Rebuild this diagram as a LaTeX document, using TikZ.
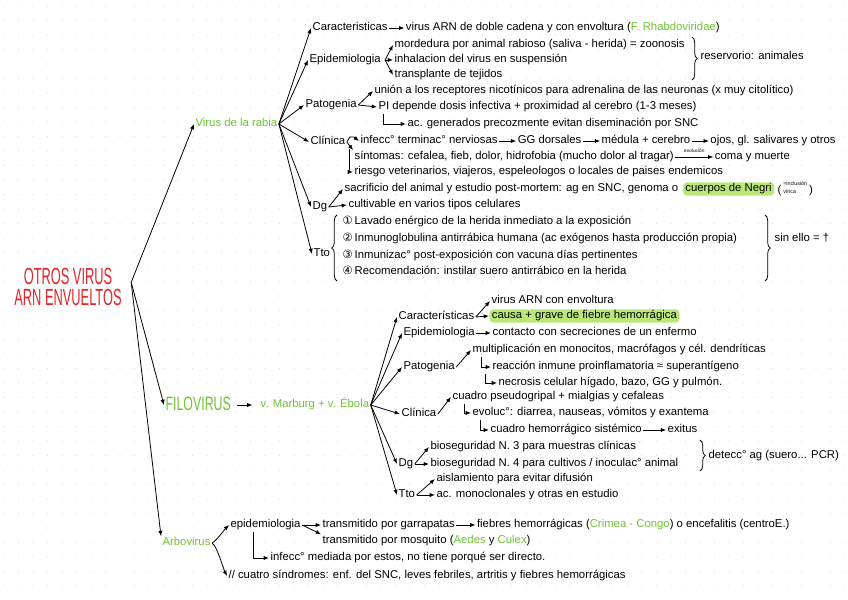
\documentclass[tikz,border=0pt]{standalone}
\usepackage{fontspec}
\setmainfont{Liberation Sans}
\newfontfamily\symf{DejaVu Sans}
\usetikzlibrary{arrows.meta,positioning,decorations.pathreplacing}
\definecolor{leaf}{RGB}{112,196,52}
\definecolor{hlgreen}{RGB}{186,232,120}
\definecolor{titlered}{RGB}{228,36,40}
\definecolor{dotgray}{RGB}{224,224,224}
\tikzset{
  item/.style={anchor=west,inner sep=1pt,text height=6pt,text depth=1.8pt,font=\fontsize{8.5}{9.5}\selectfont},
  head/.style={item,text=leaf},
  hilite/.style={item,inner xsep=2pt,fill=hlgreen,rounded corners=3pt},
  note/.style={anchor=west,inner sep=1pt,font=\fontsize{8.5}{9.5}\selectfont},
  title/.style={align=center,inner sep=1pt,text=titlered,font=\fontsize{17.5}{16}\selectfont},
  link/.style={-{Latex[length=1.4mm,width=1.1mm]},line width=0.6pt},
  curly/.style={decorate,decoration={brace,amplitude=4pt},line width=0.6pt}
}

\begin{document}
\begin{tikzpicture}[x=0.75pt,y=-0.75pt]

\useasboundingbox (0,0) rectangle (848,599);
\fill[white] (0,0) rectangle (848,599);
\foreach \i in {0,...,58}
  \foreach \j in {0,...,41}
    \fill[dotgray] (4+14.5*\i,6+14.5*\j) circle (0.6);

\node[title] (root) at (68,287) {\scalebox{0.55}[1]{OTROS VIRUS}\\\scalebox{0.55}[1]{ARN ENVUELTOS}};

\node[head] (rabia) at (194,124) {Virus de la rabia};
\node[head,font=\fontsize{14.5}{15}\selectfont,text height=10.5pt] (filo) at (164,405) {\scalebox{0.64}[1]{FILOVIRUS}};
\node[head,right=7mm of filo] (filov) {v. Marburg + v. Ébola};
\node[head] (arbo) at (161,543) {Arbovirus};

\draw[link] ([xshift=6pt,yshift=3.5pt]root.east) -- (rabia.west);
\draw[link] ([xshift=6pt,yshift=3.5pt]root.east) -- (filo.west);
\draw[link] ([xshift=6pt,yshift=3.5pt]root.east) -- (arbo.north west);
\draw[link,shorten <=3pt,shorten >=5pt] (filo) -- (filov);

% virus de la rabia
\node[item] (rcar) at (311,28) {Caracteristicas};
\node[item,right=4mm of rcar] (rcar1) {virus ARN de doble cadena y con envoltura (\textcolor{leaf}{F. Rhabdoviridae})};

\node[item] (repi) at (308,60) {Epidemiologia};
\node[item] (repi1) at (393,45) {mordedura por animal rabioso (saliva - herida) = zoonosis};
\node[item] (repi2) at (393,60) {inhalacion del virus en suspensión};
\node[item] (repi3) at (393,75) {transplante de tejidos};
\coordinate (rb1) at (692,37);
\coordinate (rb2) at (692,80);
\node[item] (rres) at (699,57) {reservorio: animales};

\node[item] (rpat) at (304,105) {Patogenia};
\node[item] (rpat1) at (373,91) {unión a los receptores nicotínicos para adrenalina de las neuronas (x muy citolítico)};
\node[item] (rpat2) at (377,107) {PI depende dosis infectiva + proximidad al cerebro (1-3 meses)};
\node[item] (rpat3) at (406,124) {ac. generados precozmente evitan diseminación por SNC};

\node[item] (rcli) at (309,142) {Clínica};
\node[item] (rcli1) at (359,141) {infecc° terminac° nerviosas};
\node[item,right=4.5mm of rcli1] (rcli2) {GG dorsales};
\node[item,right=4.5mm of rcli2] (rcli3) {médula + cerebro};
\node[item,right=4.5mm of rcli3] (rcli4) {ojos, gl. salivares y otros};
\node[item] (rcli5) at (353,157) {síntomas: cefalea, fieb, dolor, hidrofobia (mucho dolor al tragar)};
\node[item,right=10mm of rcli5] (rcli6) {coma y muerte};
\node[item] (rcli7) at (353,172) {riesgo veterinarios, viajeros, espeleologos o locales de paises endemicos};

\node[item] (rdg) at (311,207) {Dg};
\node[item] (rdg1) at (343,189) {sacrificio del animal y estudio post-mortem: ag en SNC, genoma o};
\node[hilite,right=2pt of rdg1] (negri) {cuerpos de Negri};
\node[note,right=1pt of negri] (negri2) {(\,{\fontsize{4}{4.5}\selectfont\shortstack[l]{=inclusión\\vírica}}\,)};
\node[item] (rdg2) at (347,205) {cultivable en varios tipos celulares};

\node[item] (rtto) at (312,254) {Tto};
\coordinate (rt1) at (337,281);
\coordinate (rt2) at (337,215);
\node[item] (rtto1) at (341,222) {{\symf ①}\,Lavado enérgico de la herida inmediato a la exposición};
\node[item] (rtto2) at (341,239) {{\symf ②}\,Inmunoglobulina antirrábica humana (ac exógenos hasta producción propia)};
\node[item] (rtto3) at (341,256) {{\symf ③}\,Inmunizac° post-exposición con vacuna días pertinentes};
\node[item] (rtto4) at (341,272) {{\symf ④}\,Recomendación: instilar suero antirrábico en la herida};
\coordinate (rt3) at (765,215);
\coordinate (rt4) at (765,281);
\node[item] (rsin) at (773,239) {sin ello = †};

\foreach \n in {rcar,repi,rpat,rcli,rdg,rtto}
  \draw[link] (rabia.east) -- (\n.west);
\draw[link] (rcar) -- (rcar1);
\foreach \n in {repi1,repi2,repi3}
  \draw[link] ([xshift=2pt]repi.east) -- (\n.west);
\draw[curly] (rb1) -- (rb2);
\draw[link] (rpat.east) -- (rpat1.west);
\draw[link] (rpat.east) -- (rpat2.west);
\draw[link] ([xshift=5pt]rpat2.south west) |- (rpat3.west);
\draw[link] (rcli.east) -- ++(3,-5) -- ++(4,0) -- (rcli1.west);
\draw[link] (rcli1) -- (rcli2);
\draw[link] (rcli2) -- (rcli3);
\draw[link] (rcli3) -- (rcli4);
\draw[link] (rcli.east) -- (rcli5.north west);
\draw[link] (rcli5) -- node[above=-0.5pt,font=\fontsize{3.6}{4}\selectfont] {evolución} (rcli6);
\draw[link] ([xshift=2pt]rcli.south east) |- (rcli7.west);
\draw[link] (rdg.east) -- (rdg1.west);
\draw[link] (rdg.east) -- (rdg2.west);
\draw[curly] (rt1) -- (rt2);
\draw[curly] (rt3) -- (rt4);

% filovirus
\node[item] (fcar) at (397,317) {Características};
\node[item] (fcar1) at (490,301) {virus ARN con envoltura};
\node[hilite] (fcar2) at (489,316) {causa + grave de fiebre hemorrágica};

\node[item] (fepi) at (402,333) {Epidemiologia};
\node[item] (fepi1) at (491,333) {contacto con secreciones de un enfermo};

\node[item] (fpat) at (402,367) {Patogenia};
\node[item] (fpat1) at (471,350) {multiplicación en monocitos, macrófagos y cél. dendríticas};
\node[item] (fpat2) at (491,367) {reacción inmune proinflamatoria ≈ superantígeno};
\node[item] (fpat3) at (497,383) {necrosis celular hígado, bazo, GG y pulmón.};

\node[item] (fcli) at (400,414) {Clínica};
\node[item] (fcli1) at (451,397) {cuadro pseudogripal + mialgias y cefaleas};
\node[item] (fcli2) at (471,413) {evoluc°: diarrea, nauseas, vómitos y exantema};
\node[item] (fcli3) at (489,430) {cuadro hemorrágico sistémico};
\node[item,right=6mm of fcli3] (fcli4) {exitus};

\node[item] (fdg) at (397,464) {Dg};
\node[item] (fdg1) at (429,447) {bioseguridad N. 3 para muestras clínicas};
\node[item] (fdg2) at (429,464) {bioseguridad N. 4 para cultivos / inoculac° animal};
\coordinate (fb1) at (700,440);
\coordinate (fb2) at (700,471);
\node[item] (fdet) at (707,456) {detecc° ag (suero... PCR)};

\node[item] (ftto) at (397,495) {Tto};
\node[item] (ftto1) at (435,479) {aislamiento para evitar difusión};
\node[item] (ftto2) at (435,495) {ac. monoclonales y otras en estudio};

\foreach \n in {fcar,fepi,fpat,fcli,fdg,ftto}
  \draw[link] (filov.east) -- (\n.west);
\draw[link] (fcar.east) -- (fcar1.west);
\draw[link] (fcar.east) -- (fcar2.west);
\draw[link] (fepi) -- (fepi1);
\draw[link] (fpat.east) -- (fpat1.west);
\draw[link] ([xshift=8pt]fpat1.south west) |- (fpat2.west);
\draw[link] ([xshift=-4pt]fpat2.south west) |- (fpat3.west);
\draw[link] (fcli.east) -- (fcli1.west);
\draw[link] ([xshift=10pt]fcli1.south west) |- (fcli2.west);
\draw[link] ([xshift=7pt]fcli2.south west) |- (fcli3.west);
\draw[link] (fcli3) -- (fcli4);
\draw[link] (fdg.east) -- (fdg1.west);
\draw[link] (fdg.east) -- (fdg2.west);
\draw[curly] (fb1) -- (fb2);
\draw[link] (ftto.east) -- (ftto1.west);
\draw[link] (ftto.east) -- (ftto2.west);

% arbovirus
\node[item] (aepi) at (229,525) {epidemiologia};
\node[item] (aepi1) at (321,525) {transmitido por garrapatas};
\node[item,right=5mm of aepi1] (aepi2) {fiebres hemorrágicas (\textcolor{leaf}{Crimea - Congo}) o encefalitis (centroE.)};
\node[item] (aepi3) at (321,541) {transmitido por mosquito (\textcolor{leaf}{Aedes} y \textcolor{leaf}{Culex})};
\node[item] (aepi4) at (269,558) {infecc° mediada por estos, no tiene porqué ser directo.};
\node[item] (asin) at (227,576) {// cuatro síndromes: enf. del SNC, leves febriles, artritis y fiebres hemorrágicas};

\draw[link] (arbo.east) .. controls +(5,-3) and +(-4,4) .. (aepi.west);
\draw[link] (arbo.east) .. controls +(5,3) and +(-4,-8) .. (asin.west);
\draw[link] (aepi.east) -- (aepi1.west);
\draw[link] (aepi.east) -- (aepi3.north west);
\draw[link] (aepi1) -- (aepi2);
\draw[link] ([xshift=18pt]aepi.south west) |- (aepi4.west);

\end{tikzpicture}
\end{document}
